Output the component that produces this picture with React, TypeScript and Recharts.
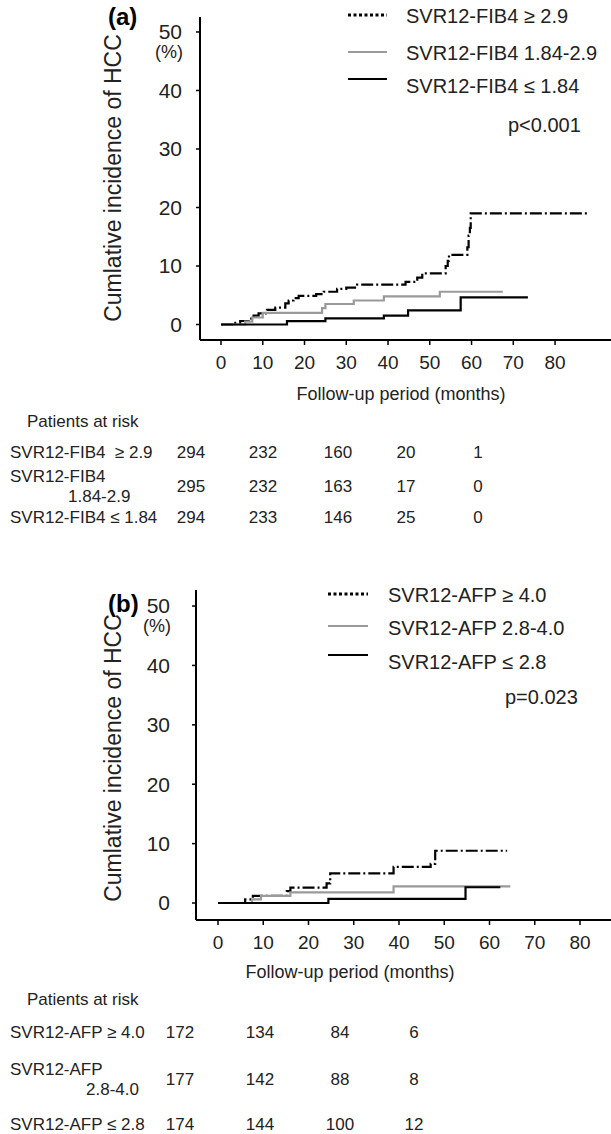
import React from 'react';
import { LineChart, Line, XAxis, YAxis, Legend, Label } from 'recharts';

const FONT = '"Liberation Sans", Arial, Helvetica, sans-serif';

// ---- shared ticks ----
const monthTicks = [0, 10, 20, 30, 40, 50, 60, 70, 80];
const pctTicks = [0, 10, 20, 30, 40, 50];

// ---- panel (a): FIB-4 groups (months, cumulative %) ----
const fibHighT = [0, 3, 4.6, 6.6, 7.8, 9, 11, 13, 15.4, 16.2, 17.4, 18.6, 22.8, 24.6, 27.8, 30, 32.6, 44.2, 47, 48.2, 53.8, 54.3, 54.6, 59.0, 59.3, 59.6, 59.8, 87.8];
const fibHighV = [0, 0.3, 0.6, 1.0, 1.5, 1.9, 2.5, 2.9, 3.6, 4.1, 4.5, 4.9, 5.2, 5.6, 6.1, 6.3, 6.8, 7.3, 8.0, 8.75, 10.0, 10.9, 11.9, 13.2, 15.2, 16.5, 19.0, 19.0];
const fibMidT = [0, 5.8, 7.5, 10, 24.2, 25, 31.8, 39, 52.4, 67.5];
const fibMidV = [0, 0.5, 1.2, 2.0, 2.8, 3.5, 4.1, 4.8, 5.6, 5.6];
const fibLowT = [0, 15.8, 25, 39, 44.8, 57.4, 73.5];
const fibLowV = [0, 0.57, 1.05, 1.5, 2.4, 4.65, 4.65];

// ---- panel (b): AFP groups ----
const afpHighT = [0, 6, 7.7, 15.2, 16, 24, 24.8, 38.8, 47, 48, 63.9];
const afpHighV = [0, 0.6, 1.2, 2.0, 2.6, 3.3, 5.0, 6.1, 6.6, 8.8, 8.8];
const afpMidT = [0, 7.5, 9.5, 16, 38.8, 64.6];
const afpMidV = [0, 0.6, 1.2, 1.8, 2.8, 2.8];
const afpLowT = [0, 24.4, 54.7, 62.4];
const afpLowV = [0, 0.68, 2.65, 2.65];

// ---- legends / p values ----
const fibNames = ['SVR12-FIB4 \u2265 2.9', 'SVR12-FIB4 1.84-2.9', 'SVR12-FIB4 \u2264 1.84'];
const afpNames = ['SVR12-AFP \u2265 4.0', 'SVR12-AFP 2.8-4.0', 'SVR12-AFP \u2264 2.8'];
const fibP = 'p<0.001';
const afpP = 'p=0.023';

// ---- risk tables ----
const fibRiskLabels = [['SVR12-FIB4  \u2265 2.9'], ['SVR12-FIB4', '1.84-2.9'], ['SVR12-FIB4 \u2264 1.84']];
const fibRiskCounts = [
  [294, 232, 160, 20, 1],
  [295, 232, 163, 17, 0],
  [294, 233, 146, 25, 0],
];
const afpRiskLabels = [['SVR12-AFP \u2265 4.0'], ['SVR12-AFP', '2.8-4.0'], ['SVR12-AFP \u2264 2.8']];
const afpRiskCounts = [
  [172, 134, 84, 6],
  [177, 142, 88, 8],
  [174, 144, 100, 12],
];

const toPts = (t: number[], v: number[]) => t.map((x, i) => ({ t: x, v: v[i] }));

const STYLES = [
  { stroke: '#000', dash: '12 3 2 3', legendDash: '3 2.5', width: 2.2 },
  { stroke: '#9a9a9a', dash: undefined, legendDash: undefined, width: 2.2 },
  { stroke: '#000', dash: undefined, legendDash: undefined, width: 2.2 },
];

type Cfg = {
  tag: string;
  height: number;
  plotTop: number;
  plotBottom: number;
  axisX: number;
  xDomain: [number, number];
  yDomain: [number, number];
  yTickMargin: number;
  xLabel: [number, number];
  yLabel: [number, number];
  tagPos: [number, number];
  legendLine: [number, number];
  legendTextX: number;
  legendLineY: number[];
  legendTextY: number[];
  pPos: [number, number];
  names: string[];
  p: string;
  series: { t: number; v: number }[][];
};

function YTick(props: any) {
  const { x, y, payload } = props;
  return (
    <g>
      <text x={x} y={y} dy="0.355em" textAnchor="end" fill="#222" fontSize={21} fontFamily={FONT}>
        {payload.value}
      </text>
      {payload.value === 50 && (
        <text x={x + 1} y={y + 20} dy="0.355em" textAnchor="end" fill="#222" fontSize={18} fontFamily={FONT}>
          (%)
        </text>
      )}
    </g>
  );
}

function KMPanel({ cfg }: { cfg: Cfg }) {
  const legendContent = () => (
    <svg width={611} height={150} style={{ position: 'absolute', left: 0, top: 0, overflow: 'visible' }}>
      <text x={cfg.tagPos[0]} y={cfg.tagPos[1]} fontSize={24} fontWeight="bold" fontFamily={FONT} fill="#000">
        {cfg.tag}
      </text>
      {cfg.names.map((n, i) => (
        <g key={n}>
          <line
            x1={cfg.legendLine[0]}
            x2={cfg.legendLine[1]}
            y1={cfg.legendLineY[i]}
            y2={cfg.legendLineY[i]}
            stroke={STYLES[i].stroke}
            strokeWidth={i === 0 ? 3 : 2.2}
            strokeDasharray={STYLES[i].legendDash}
          />
          <text x={cfg.legendTextX} y={cfg.legendTextY[i]} dominantBaseline="central" fontSize={20} fontFamily={FONT} fill="#222">
            {n}
          </text>
        </g>
      ))}
      <text x={cfg.pPos[0]} y={cfg.pPos[1]} dominantBaseline="central" fontSize={20} fontFamily={FONT} fill="#222">
        {cfg.p}
      </text>
    </svg>
  );

  return (
    <LineChart
      width={611}
      height={cfg.height}
      margin={{ top: cfg.plotTop, right: 0, bottom: cfg.height - cfg.plotBottom - 30, left: cfg.axisX - 60 }}
    >
      <XAxis
        type="number"
        dataKey="t"
        domain={cfg.xDomain}
        ticks={monthTicks}
        interval={0}
        allowDataOverflow
        height={30}
        axisLine={{ stroke: '#000', strokeWidth: 2 }}
        tickLine={{ stroke: '#000', strokeWidth: 1.5 }}
        tickSize={5}
        tickMargin={11}
        tick={{ fill: '#222', fontSize: 19, fontFamily: FONT }}
      >
        <Label
          content={() => (
            <text x={cfg.xLabel[0]} y={cfg.xLabel[1]} textAnchor="middle" dominantBaseline="central" fontSize={18} fontFamily={FONT} fill="#222">
              Follow-up period (months)
            </text>
          )}
        />
      </XAxis>
      <YAxis
        type="number"
        domain={cfg.yDomain}
        ticks={pctTicks}
        interval={0}
        allowDataOverflow
        width={60}
        axisLine={{ stroke: '#000', strokeWidth: 2 }}
        tickLine={{ stroke: '#000', strokeWidth: 1.5 }}
        tickSize={4}
        tickMargin={cfg.yTickMargin}
        tick={(p: any) => <YTick {...p} />}
      >
        <Label
          content={() => (
            <text
              x={cfg.yLabel[0]}
              y={cfg.yLabel[1]}
              textAnchor="middle"
              dominantBaseline="central"
              transform={`rotate(-90 ${cfg.yLabel[0]} ${cfg.yLabel[1]})`}
              fontSize={23}
              fontFamily={FONT}
              fill="#222"
            >
              Cumlative incidence of HCC
            </text>
          )}
        />
      </YAxis>
      <Legend
        layout="vertical"
        align="center"
        verticalAlign="middle"
        wrapperStyle={{ left: 0, top: 0, width: 611, height: 0 }}
        content={legendContent}
      />
      {cfg.series.map((pts, i) => (
        <Line
          key={i}
          data={pts}
          dataKey="v"
          name={cfg.names[i]}
          type="stepAfter"
          stroke={STYLES[i].stroke}
          strokeWidth={STYLES[i].width}
          strokeDasharray={STYLES[i].dash}
          dot={false}
          activeDot={false}
          isAnimationActive={false}
        />
      ))}
    </LineChart>
  );
}

function RiskTable(props: {
  top: number;
  titleY: number;
  rowY: number[];
  colX: number[];
  secondLineX: number;
  labels: string[][];
  counts: number[][];
}) {
  const base: React.CSSProperties = {
    position: 'absolute',
    fontFamily: FONT,
    fontSize: 17,
    color: '#222',
    whiteSpace: 'pre',
    lineHeight: '16px',
    height: 16,
  };
  return (
    <div style={{ position: 'absolute', left: 0, top: props.top, width: 611 }}>
      <div style={{ ...base, left: 27, top: props.titleY - 8 }}>Patients at risk</div>
      {props.labels.map((lab, r) =>
        lab.length === 1 ? (
          <div key={'l' + r} style={{ ...base, left: 10, top: props.rowY[r] - 8 }}>
            {lab[0]}
          </div>
        ) : (
          <React.Fragment key={'l' + r}>
            <div style={{ ...base, left: 10, top: props.rowY[r] - 18 }}>{lab[0]}</div>
            <div style={{ ...base, left: props.secondLineX, top: props.rowY[r] + 2 }}>{lab[1]}</div>
          </React.Fragment>
        )
      )}
      {props.counts.map((row, r) =>
        row.map((c, k) => (
          <div
            key={r + '-' + k}
            style={{ ...base, left: props.colX[k], top: props.rowY[r] - 8, transform: 'translateX(-50%)' }}
          >
            {c}
          </div>
        ))
      )}
    </div>
  );
}

const cfgA: Cfg = {
  tag: '(a)',
  height: 410,
  plotTop: 17,
  plotBottom: 340,
  axisX: 200,
  xDomain: [-5.03, 93.4],
  yDomain: [-2.65, 52.56],
  yTickMargin: 14,
  xLabel: [401, 394],
  yLabel: [113, 178],
  tagPos: [108, 25],
  legendLine: [348, 387],
  legendTextX: 406,
  legendLineY: [15, 52, 79],
  legendTextY: [16, 53, 86],
  pPos: [508, 125],
  names: fibNames,
  p: fibP,
  series: [toPts(fibHighT, fibHighV), toPts(fibMidT, fibMidV), toPts(fibLowT, fibLowV)],
};

const cfgB: Cfg = {
  tag: '(b)',
  height: 430,
  plotTop: 30,
  plotBottom: 360,
  axisX: 196,
  xDomain: [-4.86, 86.85],
  yDomain: [-2.86, 52.7],
  yTickMargin: 22,
  xLabel: [350, 412],
  yLabel: [113, 198],
  tagPos: [108, 52],
  legendLine: [328, 368],
  legendTextX: 388,
  legendLineY: [34, 66, 95],
  legendTextY: [35, 68, 102],
  pPos: [505, 137],
  names: afpNames,
  p: afpP,
  series: [toPts(afpHighT, afpHighV), toPts(afpMidT, afpMidV), toPts(afpLowT, afpLowV)],
};

export default function App() {
  return (
    <div style={{ position: 'absolute', left: 0, top: 0, width: 611, height: 1134, background: '#fff', overflow: 'hidden' }}>
      <div style={{ position: 'absolute', left: 0, top: 0 }}>
        <KMPanel cfg={cfgA} />
      </div>
      <RiskTable
        top={0}
        titleY={422}
        rowY={[453, 487, 518]}
        colX={[191, 263, 338, 406, 478]}
        secondLineX={68}
        labels={fibRiskLabels}
        counts={fibRiskCounts}
      />
      <div style={{ position: 'absolute', left: 0, top: 560 }}>
        <KMPanel cfg={cfgB} />
      </div>
      <RiskTable
        top={0}
        titleY={1000}
        rowY={[1033, 1080, 1125]}
        colX={[180, 260, 340, 414]}
        secondLineX={86}
        labels={afpRiskLabels}
        counts={afpRiskCounts}
      />
    </div>
  );
}
